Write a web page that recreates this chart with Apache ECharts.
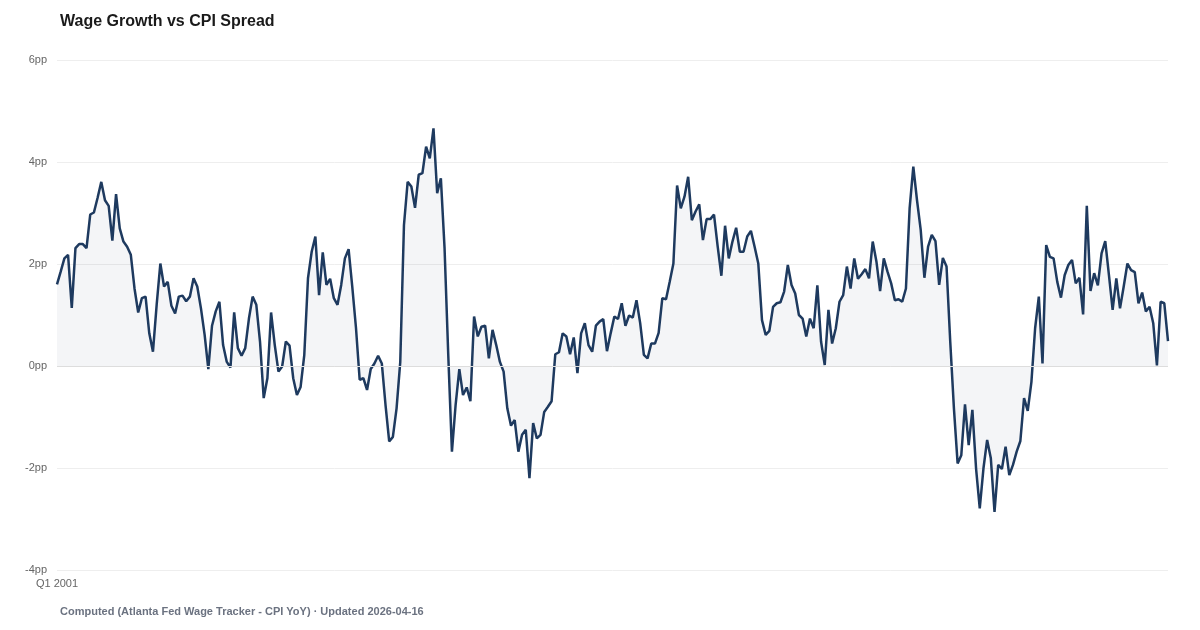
<!DOCTYPE html>
<html>
<head>
<meta charset="utf-8">
<script src="https://cdn.jsdelivr.net/npm/echarts@6/dist/echarts.min.js"></script>
<style>
  html, body { margin: 0; padding: 0; background: #fff; }
  #chart { width: 1200px; height: 630px; }
</style>
</head>
<body>
<div id="chart"></div>
<script>
// monthly wage growth minus CPI YoY, percentage points (Jan 2001 .. Feb 2026)
const spread2001to2005 = [1.60,1.85,2.11,2.18,1.14,2.31,2.39,2.39,2.31,2.97,3.01,3.30,3.61,3.25,3.14,2.46,3.37,2.70,2.44,2.34,2.18,1.52,1.05,1.33,1.36,0.64,0.28,1.20,
  2.01,1.56,1.65,1.18,1.03,1.36,1.38,1.27,1.36,1.72,1.56,1.13,0.61,-0.06,0.79,1.07,1.26,0.41,0.08,-0.03,1.05,0.35,0.20,0.35,0.93,1.36,1.20,
  0.48,-0.63,-0.24,1.05,0.41];
const spread2006to2010 = [-0.11,-0.01,0.48,0.40,-0.24,-0.57,-0.41,0.22,1.72,2.24,2.54,1.39,2.23,1.59,1.71,1.33,1.20,1.59,2.11,2.29,1.55,0.75,
  -0.27,-0.24,-0.47,-0.06,0.05,0.20,0.05,-0.76,-1.48,-1.39,-0.83,0.08,2.76,3.61,3.52,3.10,3.75,3.78,4.30,4.07,4.66,3.39,3.68,2.31,0.22,-1.68,-0.76,
  -0.06,-0.57,-0.42,-0.69,0.97,0.58,0.77,0.79,0.15,0.71,0.41];
const spread2011to2015 = [0.08,-0.11,-0.83,-1.17,-1.06,-1.68,-1.35,-1.25,-2.20,-1.12,-1.42,-1.35,-0.90,-0.80,-0.69,0.23,0.27,
  0.64,0.58,0.23,0.56,-0.14,0.64,0.84,0.41,0.28,0.79,0.87,0.92,0.29,0.64,0.97,0.92,1.23,0.79,0.99,0.95,1.29,0.84,0.22,0.15,0.44,0.44,0.65,
  1.33,1.31,1.65,2.01,3.54,3.09,3.32,3.71,2.86,3.03,3.17,2.47,2.88,2.88,2.97,2.34];
const spread2016to2020 = [1.77,2.75,2.11,2.44,2.71,2.24,2.24,2.54,2.65,2.34,2.01,
  0.90,0.61,0.69,1.16,1.23,1.25,1.46,1.98,1.59,1.42,1.00,0.93,0.58,0.93,0.74,1.58,0.48,0.02,1.10,0.44,0.74,1.26,1.39,1.95,1.52,2.11,1.71,
  1.80,1.90,1.72,2.44,2.05,1.47,2.11,1.85,1.62,1.29,1.31,1.26,1.52,3.09,3.91,3.25,2.67,1.73,2.34,2.57,2.45,1.59];
const spread2021to2026 = [2.12,1.95,0.48,-0.83,-1.91,
  -1.75,-0.75,-1.55,-0.86,-2.01,-2.79,-2.01,-1.45,-1.81,-2.86,-1.94,-2.02,-1.58,-2.14,-1.94,-1.68,-1.47,-0.63,-0.88,-0.31,0.74,1.36,0.05,2.37,2.14,2.11,1.65,1.34,
  1.78,1.98,2.08,1.62,1.73,1.01,3.14,1.47,1.82,1.58,2.21,2.45,1.78,1.10,1.72,1.13,1.56,2.01,1.88,1.84,1.23,1.44,1.07,1.16,0.84,0.01,1.26,1.23,0.49];

const spread = [].concat(spread2001to2005, spread2006to2010, spread2011to2015, spread2016to2020, spread2021to2026);

const startYear = 2001;
const periods = spread.map((_, i) => 'Q' + (Math.floor((i % 12) / 3) + 1) + ' ' + (startYear + Math.floor(i / 12)));

const yTicks = { min: -4, max: 6, interval: 2 };

const chart = echarts.init(document.getElementById('chart'));
chart.setOption({
  animation: false,
  textStyle: { fontFamily: 'Liberation Sans, Arial, sans-serif' },
  title: [
    { text: 'Wage Growth vs CPI Spread', left: 55, top: 9,
      textStyle: { fontSize: 16, fontWeight: 'bold', color: '#1a1a1a' } },
    { text: 'Computed (Atlanta Fed Wage Tracker - CPI YoY) · Updated 2026-04-16', left: 55, top: 601,
      textStyle: { fontSize: 11, fontWeight: 'bold', color: '#6b7280' } }
  ],
  grid: { left: 57, right: 32, top: 60, bottom: 60 },
  xAxis: {
    type: 'category',
    data: periods,
    boundaryGap: false,
    axisLine: { show: false, onZero: false },
    axisTick: { show: false },
    axisLabel: { color: '#666', fontSize: 11, margin: 8, interval: (idx) => idx === 0 }
  },
  yAxis: {
    type: 'value',
    min: yTicks.min, max: yTicks.max, interval: yTicks.interval,
    axisLabel: { formatter: '{value}pp', color: '#666', fontSize: 11, margin: 10 },
    splitLine: { lineStyle: { color: '#eeeeee' } }
  },
  series: [{
    name: 'Spread',
    type: 'line',
    data: spread,
    symbol: 'none',
    lineStyle: { color: '#1e3a5f', width: 2.5 },
    itemStyle: { color: '#1e3a5f' },
    areaStyle: { color: 'rgba(30,58,95,0.07)' },
    markLine: {
      silent: true, symbol: 'none', label: { show: false },
      lineStyle: { color: '#dddddd', type: 'solid', width: 1 },
      data: [{ yAxis: 0 }]
    }
  }]
});
</script>
</body>
</html>
